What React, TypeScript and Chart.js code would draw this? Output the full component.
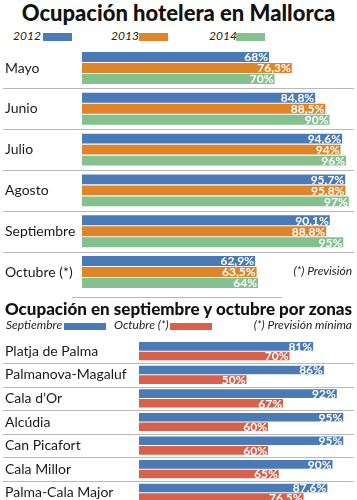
import React, { useEffect, useRef } from "react";
import { Chart, registerables } from "chart.js";
Chart.register(...registerables);

const months = ["Mayo", "Junio", "Julio", "Agosto", "Septiembre", "Octubre (*)"];
const y2012 = [68, 84.8, 94.6, 95.7, 90.1, 62.9];
const y2013 = [76.3, 88.5, 94, 95.8, 88.8, 63.5];
const y2014 = [70, 90, 96, 97, 95, 64];

const zonas = ["Platja de Palma", "Palmanova-Magaluf", "Cala d\u2019Or", "Alcúdia", "Can Picafort", "Cala Millor", "Palma-Cala Major"];
const septiembre = [81, 86, 92, 95, 95, 90, 87.6];
const octubre = [70, 50, 67, 60, 60, 65, 76.5];

const BLUE = "#4a7bb7";
const ORANGE = "#e0842a";
const GREEN = "#85c08f";
const RED = "#d9604a";
const FONT = "Lato";

const fmt = (v: number) => String(v).replace(".", ",") + "%";

const valueLabels = {
  id: "valueLabels",
  afterDatasetsDraw(chart: any, _args: any, opts: any) {
    const ctx = chart.ctx;
    ctx.save();
    ctx.font = `bold ${opts.size || 12}px ${FONT}`;
    ctx.fillStyle = "#ffffff";
    ctx.textAlign = "right";
    ctx.textBaseline = "middle";
    chart.data.datasets.forEach((ds: any, di: number) => {
      const meta = chart.getDatasetMeta(di);
      meta.data.forEach((bar: any, i: number) => {
        ctx.fillText(fmt(ds.data[i]), bar.x - 1, bar.y + 0.5);
      });
    });
    ctx.restore();
  },
};

const separators = {
  id: "separators",
  afterDraw(chart: any, _args: any, opts: any) {
    const y = chart.scales.y;
    const ctx = chart.ctx;
    const n = chart.data.labels.length;
    ctx.save();
    ctx.strokeStyle = opts.color || "#b5b5b5";
    ctx.lineWidth = 1;
    for (let i = 0; i < n; i++) {
      if (i === n - 1 && !opts.last) continue;
      const p = y.getPixelForValue(i) + (y.getPixelForValue(1) - y.getPixelForValue(0)) / 2;
      const py = Math.round(p) + 0.5;
      ctx.beginPath();
      ctx.moveTo(opts.left, py);
      ctx.lineTo(opts.right, py);
      ctx.stroke();
    }
    ctx.restore();
  },
};

function makeOptions(axisWidth: number, padding: any, labelSize: number, sepLast: boolean) {
  return {
    indexAxis: "y" as const,
    animation: false as const,
    responsive: false,
    maintainAspectRatio: false,
    layout: { padding },
    plugins: {
      legend: { display: false },
      tooltip: { enabled: false },
      valueLabels: { size: 12 },
      separators: { left: 3, right: 354, color: "#b8b8b8", last: sepLast },
    },
    scales: {
      x: { display: false, min: 0, max: 100 },
      y: {
        grid: { display: false },
        border: { display: false },
        afterFit: (scale: any) => {
          scale.width = axisWidth;
          scale.paddingTop = 0;
          scale.paddingBottom = 0;
        },
        ticks: {
          crossAlign: "far" as const,
          padding: 0,
          color: "#1a1a1a",
          font: { family: FONT, size: labelSize },
        },
      },
    },
  };
}

export default function App() {
  const c1 = useRef<HTMLCanvasElement>(null);
  const c2 = useRef<HTMLCanvasElement>(null);

  useEffect(() => {
    const ch1 = new Chart(c1.current as HTMLCanvasElement, {
      type: "bar",
      data: {
        labels: months,
        datasets: [
          { label: "2012", data: y2012, backgroundColor: BLUE, categoryPercentage: 0.81, barPercentage: 0.9 },
          { label: "2013", data: y2013, backgroundColor: ORANGE, categoryPercentage: 0.81, barPercentage: 0.9 },
          { label: "2014", data: y2014, backgroundColor: GREEN, categoryPercentage: 0.81, barPercentage: 0.9 },
        ],
      },
      options: makeOptions(77, { left: 5, right: 0, top: 7.6, bottom: 7.6 }, 14, false) as any,
      plugins: [valueLabels, separators],
    });
    const ch2 = new Chart(c2.current as HTMLCanvasElement, {
      type: "bar",
      data: {
        labels: zonas,
        datasets: [
          { label: "Septiembre", data: septiembre, backgroundColor: BLUE, categoryPercentage: 0.81, barPercentage: 0.9 },
          { label: "Octubre (*)", data: octubre, backgroundColor: RED, categoryPercentage: 0.81, barPercentage: 0.9 },
        ],
      },
      options: makeOptions(134, { left: 5, right: 3, top: 9.4, bottom: 5.4 }, 14, true) as any,
      plugins: [valueLabels, separators],
    });
    return () => {
      ch1.destroy();
      ch2.destroy();
    };
  }, []);

  const abs = (s: React.CSSProperties): React.CSSProperties => ({ position: "absolute", ...s });
  const legTxt: React.CSSProperties = {
    position: "absolute",
    fontFamily: FONT,
    fontStyle: "italic",
    fontSize: 12,
    color: "#222",
    lineHeight: "14px",
    whiteSpace: "nowrap",
  };

  return (
    <div style={abs({ left: 0, top: 0, width: 357, height: 500, overflow: "hidden", background: "#fff" })}>
      <div
        style={abs({
          left: 0,
          top: 0,
          width: 357,
          textAlign: "center",
          fontFamily: FONT,
          fontWeight: 900,
          fontSize: 22,
          lineHeight: "26px",
          color: "#111",
          whiteSpace: "nowrap",
        })}
      >
        Ocupación hotelera en Mallorca
      </div>
      <div style={{ ...legTxt, left: 13, top: 29 }}>2012</div>
      <div style={abs({ left: 43, top: 33, width: 29, height: 8, background: BLUE })} />
      <div style={{ ...legTxt, left: 111, top: 29 }}>2013</div>
      <div style={abs({ left: 139, top: 33, width: 29, height: 8, background: ORANGE })} />
      <div style={{ ...legTxt, left: 209, top: 29 }}>2014</div>
      <div style={abs({ left: 236, top: 33, width: 29, height: 8, background: GREEN })} />

      <canvas ref={c1} width={357} height={260} style={abs({ left: 0, top: 40, width: 357, height: 260 })} />
      <div style={{ ...legTxt, right: 5, top: 264 }}>(*) Previsión</div>
      <div style={abs({ left: 72, top: 297, width: 210, height: 1, background: "#b8b8b8" })} />

      <div
        style={abs({
          left: 0,
          top: 299,
          width: 357,
          textAlign: "center",
          fontFamily: FONT,
          fontWeight: 900,
          fontSize: 17,
          lineHeight: "20px",
          color: "#111",
          whiteSpace: "nowrap",
        })}
      >
        Ocupación en septiembre y octubre por zonas
      </div>
      <div style={{ ...legTxt, left: 6, top: 318 }}>Septiembre</div>
      <div style={abs({ left: 64, top: 323, width: 42, height: 7, background: BLUE })} />
      <div style={{ ...legTxt, left: 114, top: 318 }}>Octubre (*)</div>
      <div style={abs({ left: 170, top: 323, width: 42, height: 7, background: RED })} />
      <div style={{ ...legTxt, right: 5, top: 318 }}>(*) Previsión mínima</div>

      <canvas ref={c2} width={357} height={180} style={abs({ left: 0, top: 330, width: 357, height: 180 })} />
    </div>
  );
}
